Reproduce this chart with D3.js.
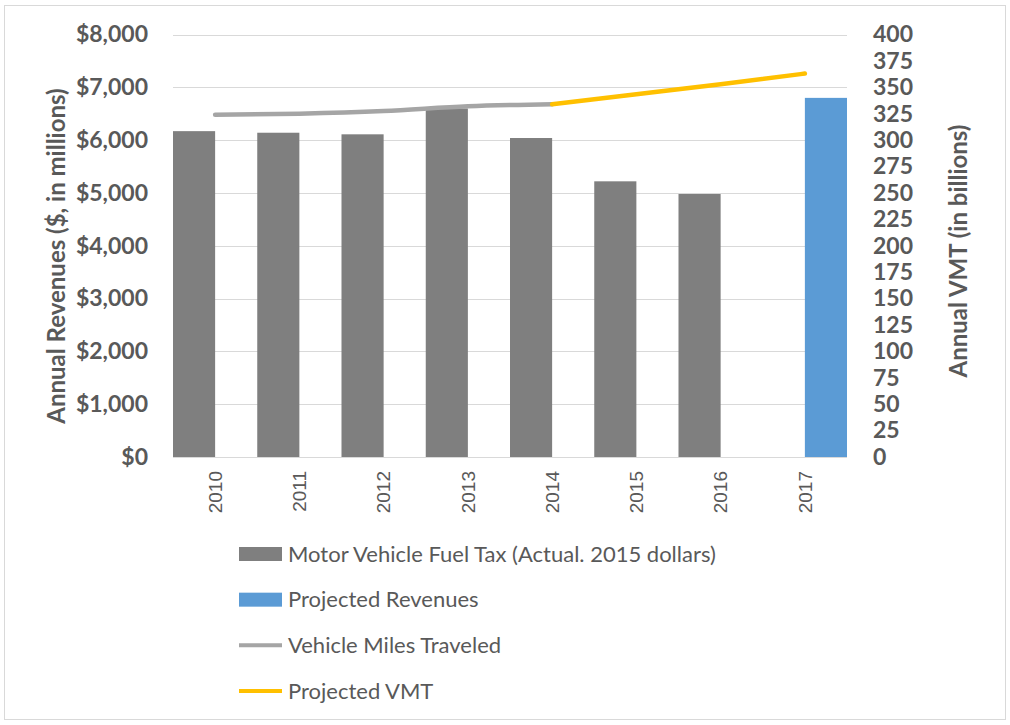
<!DOCTYPE html>
<html>
<head>
<meta charset="utf-8">
<script src="https://cdn.jsdelivr.net/npm/d3@7/dist/d3.min.js"></script>
<style>
  body { margin: 0; background: #fff; }
  svg { display: block; font-family: Lato, "Open Sans", sans-serif; }
</style>
</head>
<body>
<svg id="chart" width="1010" height="725"></svg>
<script>
// Fuel tax revenue by year (millions of 2015 dollars)
const years = ["2010", "2011", "2012", "2013", "2014", "2015", "2016", "2017"];
const actualRevenue = [6170, 6140, 6110, 6600, 6040, 5220, 4980, null];
const projectedRevenue = [null, null, null, null, null, null, null, 6800];
// Vehicle miles traveled (billions)
const vmtActual = [324, 325, 327.5, 332, 334, null, null, null];
const vmtProjected = [null, null, null, null, 334, 343.5, 353, 363];

const leftTicks = [0, 1000, 2000, 3000, 4000, 5000, 6000, 7000, 8000];
const rightTicks = d3.range(0, 401, 25);

const barSeries = ["actual", "projected"];
const legendItems = [
  { label: "Motor Vehicle Fuel Tax (Actual. 2015 dollars)", kind: "bar", color: "#7f7f7f" },
  { label: "Projected Revenues", kind: "bar", color: "#5b9bd5" },
  { label: "Vehicle Miles Traveled", kind: "line", color: "#a5a5a5" },
  { label: "Projected VMT", kind: "line", color: "#ffc000" }
];

const svg = d3.select("#chart");
const plot = { left: 173, right: 847, top: 34.5, bottom: 457 };

// outer chart frame
svg.append("rect")
  .attr("x", 4.5).attr("y", 5.5).attr("width", 1001).attr("height", 714)
  .attr("fill", "#fff").attr("stroke", "#d9d9d9").attr("stroke-width", 1);

const x = d3.scaleBand().domain(years).range([plot.left, plot.right]).padding(0);
const xSub = d3.scaleBand().domain(barSeries).range([0, x.bandwidth()]).padding(0);
const yL = d3.scaleLinear().domain([0, 8000]).range([plot.bottom, plot.top]);
const yR = d3.scaleLinear().domain([0, 400]).range([plot.bottom, plot.top]);

// horizontal gridlines
svg.append("g").selectAll("line").data(leftTicks).join("line")
  .attr("x1", plot.left).attr("x2", plot.right)
  .attr("y1", d => Math.round(yL(d)) + 0.5).attr("y2", d => Math.round(yL(d)) + 0.5)
  .attr("stroke", "#d9d9d9").attr("stroke-width", 1);

// left axis
const leftAxis = svg.append("g").attr("transform", `translate(${plot.left},0)`)
  .call(d3.axisLeft(yL).tickValues(leftTicks).tickSize(0).tickPadding(25)
    .tickFormat(d => "$" + d3.format(",")(d)));
leftAxis.select(".domain").remove();
leftAxis.selectAll("text").attr("fill", "#595959").attr("font-size", 23).attr("font-weight", 700)
  .attr("font-family", "Lato, sans-serif");

// right axis
const rightAxis = svg.append("g").attr("transform", `translate(${plot.right},0)`)
  .call(d3.axisRight(yR).tickValues(rightTicks).tickSize(0).tickPadding(26));
rightAxis.select(".domain").remove();
rightAxis.selectAll("text").attr("fill", "#595959").attr("font-size", 23).attr("font-weight", 700)
  .attr("font-family", "Lato, sans-serif");

// category labels, rotated
const bottomAxis = svg.append("g").attr("transform", `translate(0,${plot.bottom})`)
  .call(d3.axisBottom(x).tickSize(0).tickPadding(0));
bottomAxis.select(".domain").remove();
bottomAxis.selectAll("text")
  .attr("transform", "rotate(-90)")
  .attr("text-anchor", "end")
  .attr("dy", "0.35em")
  .attr("x", -14).attr("y", 0)
  .attr("fill", "#595959").attr("font-size", 19);

// clustered bars: actual on the left half of each year, projected on the right half
const barData = years.flatMap((yr, i) => [
  { yr, series: "actual", v: actualRevenue[i] },
  { yr, series: "projected", v: projectedRevenue[i] }
]).filter(d => d.v != null);

svg.append("g").selectAll("rect").data(barData).join("rect")
  .attr("x", d => x(d.yr) + xSub(d.series)).attr("width", xSub.bandwidth())
  .attr("y", d => yL(d.v)).attr("height", d => yL(0) - yL(d.v))
  .attr("fill", d => d.series === "actual" ? "#7f7f7f" : "#5b9bd5");

// VMT lines on the secondary axis
const line = d3.line()
  .defined(d => d.v != null)
  .x(d => x(d.yr) + x.bandwidth() / 2)
  .y(d => yR(d.v))
  .curve(d3.curveMonotoneX);

svg.append("path")
  .datum(years.map((yr, i) => ({ yr, v: vmtActual[i] })))
  .attr("d", line).attr("fill", "none")
  .attr("stroke", "#a5a5a5").attr("stroke-width", 4.5).attr("stroke-linecap", "round");

svg.append("path")
  .datum(years.map((yr, i) => ({ yr, v: vmtProjected[i] })))
  .attr("d", line).attr("fill", "none")
  .attr("stroke", "#ffc000").attr("stroke-width", 4.5).attr("stroke-linecap", "round");

// axis titles
svg.append("text")
  .attr("transform", `translate(65,256) rotate(-90)`)
  .attr("text-anchor", "middle").attr("fill", "#595959")
  .attr("font-size", 24).attr("font-weight", 700)
  .text("Annual Revenues ($, in millions)");

svg.append("text")
  .attr("transform", `translate(967,251) rotate(-90)`)
  .attr("text-anchor", "middle").attr("fill", "#595959")
  .attr("font-size", 24).attr("font-weight", 700)
  .text("Annual VMT (in billions)");

// legend
const legendY = d3.scalePoint().domain(legendItems.map(d => d.label)).range([554, 691]);
const lg = svg.append("g").selectAll("g").data(legendItems).join("g")
  .attr("transform", d => `translate(239,${legendY(d.label)})`);
lg.filter(d => d.kind === "bar").append("rect")
  .attr("x", 0).attr("y", -7).attr("width", 43).attr("height", 14).attr("fill", d => d.color);
lg.filter(d => d.kind === "line").append("line")
  .attr("x1", 0).attr("x2", 43).attr("y1", 0).attr("y2", 0)
  .attr("stroke", d => d.color).attr("stroke-width", 4);
lg.append("text")
  .attr("x", 49).attr("y", 0).attr("dy", "0.35em")
  .attr("fill", "#595959").attr("font-size", 22)
  .text(d => d.label);
</script>
</body>
</html>
